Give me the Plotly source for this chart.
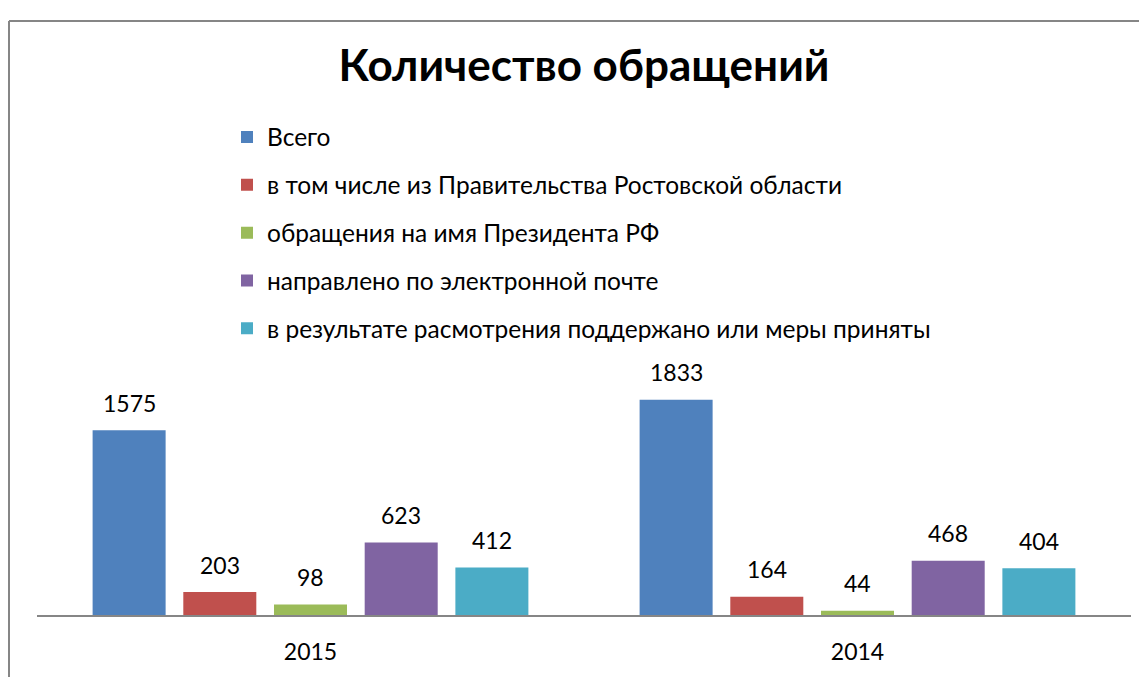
import plotly.graph_objects as go

categories = ["2015", "2014"]
series_names = [
    "Всего",
    "в том числе из Правительства Ростовской области",
    "обращения на имя Президента РФ",
    "направлено по электронной почте",
    "в результате расмотрения поддержано или меры приняты",
]
vals_total = [1575, 1833]
vals_gov = [203, 164]
vals_president = [98, 44]
vals_email = [623, 468]
vals_supported = [412, 404]
series_values = [vals_total, vals_gov, vals_president, vals_email, vals_supported]
colors = ["#4F81BD", "#C0504D", "#9BBB59", "#8064A2", "#4BACC6"]

# page body has an 8px margin; figure is sized to fill the rest of the window
OFF = 8
W, H = 1147 - OFF, 677 - OFF
L, R, T, B = 37 - OFF, 16, 380 - OFF, 57
PW, PH = W - L - R, H - T - B
FONT = "Lato"
BARGAP = 0.171


def px_x(px):
    """page pixel x -> paper coordinate"""
    return (px - OFF - L) / PW


def px_y(py):
    """page pixel y -> paper coordinate"""
    return (H - B - (py - OFF)) / PH


fig = go.Figure()
for i, (name, vals, col) in enumerate(zip(series_names, series_values, colors)):
    fig.add_trace(go.Bar(
        x=categories, y=vals, name=name, marker_color=col,
        marker_line_width=0, legendgroup=f"g{i}",
    ))
    for ci, v in enumerate(vals):
        fig.add_annotation(
            x=ci + (i - 2) * (1 - BARGAP) / 5, y=v, xref="x", yref="y",
            text=str(v), showarrow=False, yanchor="middle", yshift=27.5,
            font=dict(family=FONT, size=23, color="#000000"),
        )

fig.update_layout(
    width=W, height=H,
    margin=dict(l=L, r=R, t=T, b=B),
    paper_bgcolor="white", plot_bgcolor="white",
    barmode="group", bargap=BARGAP, bargroupgap=0.195,
    title=dict(text="<b>Количество обращений</b>", x=(584 - OFF) / W, xref="container",
               xanchor="center", y=1 - (66 - OFF) / H, yref="container", yanchor="middle",
               font=dict(family=FONT, size=44, color="#000000")),
    legend=dict(x=px_x(268 - 41), xanchor="left", y=px_y(110), yanchor="top",
                orientation="v", tracegroupgap=13, traceorder="grouped",
                font=dict(family=FONT, size=24.5, color="#000000"),
                bgcolor="rgba(0,0,0,0)"),
    showlegend=True,
    xaxis=dict(showline=False, showgrid=False, ticks="", ticklabelstandoff=20,
               tickfont=dict(family=FONT, size=23, color="#000000")),
    yaxis=dict(visible=False, range=[0, 2000]),
    shapes=[
        dict(type="line", xref="paper", yref="paper", x0=px_x(37), x1=px_x(1131),
             y0=px_y(620), y1=px_y(620), line=dict(color="#868686", width=2)),
        dict(type="line", xref="paper", yref="paper", x0=px_x(9), x1=px_x(1160),
             y0=px_y(15), y1=px_y(15), line=dict(color="#868686", width=2)),
        dict(type="line", xref="paper", yref="paper", x0=px_x(9), x1=px_x(9),
             y0=px_y(15), y1=px_y(690), line=dict(color="#868686", width=2)),
    ],
)

fig.write_html("out.html")
